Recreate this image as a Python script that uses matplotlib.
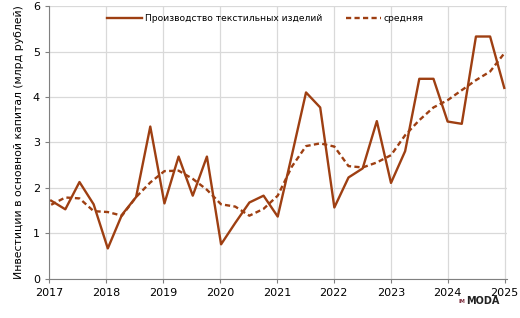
import matplotlib.pyplot as plt
import numpy as np

# quarterly values, 2017 Q1 .. 2025 Q1 (млрд рублей)
production = [1.72, 1.53, 2.13, 1.64, 0.67, 1.41, 1.80, 3.35, 1.66, 2.69, 1.83, 2.69,
              0.76, 1.23, 1.68, 1.83, 1.37, 2.72, 4.10, 3.77, 1.57, 2.23, 2.43, 3.47,
              2.11, 2.81, 4.40, 4.40, 3.46, 3.41, 5.33, 5.33, 4.20]
average = [1.63, 1.79, 1.77, 1.49, 1.47, 1.39, 1.80, 2.12, 2.37, 2.38, 2.20, 1.96,
           1.64, 1.59, 1.39, 1.54, 1.83, 2.47, 2.92, 2.98, 2.91, 2.48, 2.45, 2.56,
           2.72, 3.16, 3.49, 3.77, 3.93, 4.15, 4.37, 4.56, 4.96]
years = [2017, 2018, 2019, 2020, 2021, 2022, 2023, 2024, 2025]
label_prod = 'Производство текстильных изделий'
label_avg = 'средняя'

color = '#9E3F12'
x = 2017.04 + np.arange(len(production)) * 0.2485

fig = plt.figure(figsize=(5.2, 3.18), dpi=100)
ax = fig.add_axes([0.094, 0.123, 0.881, 0.858])

ax.plot(x, production, color=color, lw=1.7, label=label_prod)
ax.plot(x, average, color=color, lw=1.7, ls=(0, (2.2, 1.4)), label=label_avg)

ax.set_xlim(2017, 2025.04)
ax.set_ylim(0, 6)
ax.set_xticks(years)
ax.set_yticks(range(7))
ax.grid(True, color='#D9D9D9', lw=0.9)
ax.set_axisbelow(True)
for s in ['top', 'right']:
    ax.spines[s].set_visible(False)
for s in ['left', 'bottom']:
    ax.spines[s].set_color('#808080')
ax.tick_params(colors='#808080', labelcolor='black', labelsize=8, length=3, width=0.8)
ax.set_ylabel('Инвестиции в основной капитал (млрд рублей)', fontsize=7.8, labelpad=6)

ax.legend(loc='upper center', ncol=2, frameon=False, fontsize=6.6, handlelength=3.8,
          handletextpad=0.3, columnspacing=2.6, bbox_to_anchor=(0.472, 1.0))

fig.text(0.889, 0.052, 'IM', fontsize=3.5, fontweight='bold', color='#7A2A3A',
         ha='center', va='center')
fig.text(0.929, 0.052, 'MODA', fontsize=7, fontweight='bold', color='#222222',
         ha='center', va='center')

fig.savefig('out.png', dpi=100)
